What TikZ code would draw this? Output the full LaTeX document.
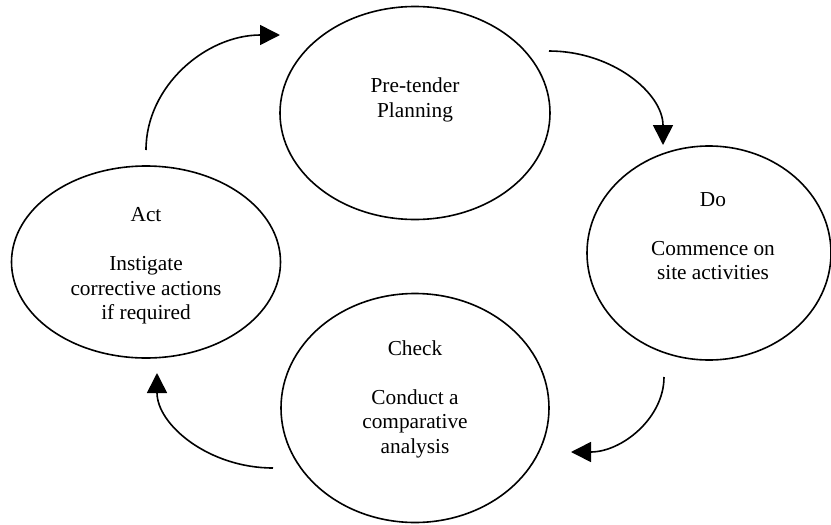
\documentclass[tikz,border=0pt]{standalone}
\usepackage{fontspec}
\setmainfont{Liberation Serif}
\usetikzlibrary{shapes.geometric, arrows.meta}

\begin{document}
\begin{tikzpicture}[
    x=0.5pt, y=-0.5pt,
    phase/.style={ellipse, draw, line width=0.8pt, inner sep=0pt},
    phasetext/.style={align=center, font=\fontsize{10.66}{12.25}\selectfont},
    arrow/.style={-{Triangle[length=10pt, width=10pt]}, line width=0.8pt},
  ]
  \useasboundingbox (0,0) rectangle (831,525);

  % Phases
  \node[phase, minimum width=135pt, minimum height=106.5pt] (plan) at (415,113) {};
  \node[phase, minimum width=122pt, minimum height=107pt] (do) at (709,253) {};
  \node[phase, minimum width=134pt, minimum height=114.5pt] (check) at (415,408) {};
  \node[phase, minimum width=134.5pt, minimum height=96pt] (act) at (146,262) {};

  % Texts
  \node[phasetext] (plantext) at (415,100) {Pre-tender\\Planning};
  \node[phasetext] (dotext) at (713,236) {Do\\[12.25pt]Commence on\\site activities};
  \node[phasetext] (checktext) at (415,399) {Check\\[12.25pt]Conduct a\\comparative\\analysis};
  \node[phasetext] (acttext) at (146,266) {Act\\[12.25pt]Instigate\\corrective actions\\if required};

  % Arrow ends
  \coordinate (actout) at (146,150);
  \coordinate (planin) at (280,35);
  \coordinate (planout) at (549,51);
  \coordinate (doin) at (663,145);
  \coordinate (doout) at (664,377);
  \coordinate (checkin) at (571,452);
  \coordinate (checkout) at (273,468);
  \coordinate (actin) at (157,373);

  % Arrows
  \draw[arrow] (actout) .. controls (146,86) and (206,35) .. (planin);
  \draw[arrow] (planout) .. controls (612,51) and (663,93) .. (doin);
  \draw[arrow] (doout) .. controls (664,418) and (622,452) .. (checkin);
  \draw[arrow] (checkout) .. controls (209,468) and (157,425) .. (actin);
\end{tikzpicture}
\end{document}
